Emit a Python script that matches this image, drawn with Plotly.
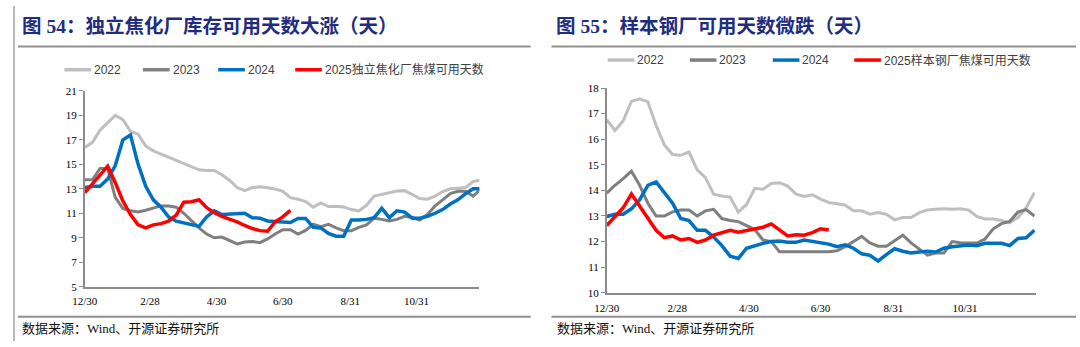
import plotly.graph_objects as go

# ---------------- data ----------------
tick_days = [0, 60, 121, 182, 244, 305]
tick_labels = ["12/30", "2/28", "4/30", "6/30", "8/31", "10/31"]
week_days = [7 * i for i in range(53)]  # weekly observations from 12/30

series_names_left = ["2022", "2023", "2024", "2025独立焦化厂焦煤可用天数"]
series_names_right = ["2022", "2023", "2024", "2025样本钢厂焦煤可用天数"]

left_2022 = [16.37, 16.8, 17.8, 18.4, 19.0, 18.65, 17.7, 17.47, 16.5, 16.1, 15.85, 15.55, 15.3, 15.1,
             14.85, 14.55, 14.5, 14.5, 14.15, 13.7, 13.1, 12.85, 13.1, 13.16, 13.08, 12.98, 12.8,
             12.28, 12.15, 11.95, 11.5, 11.85, 11.55, 11.58, 11.52, 11.3, 11.2, 11.65, 12.4, 12.55,
             12.67, 12.82, 12.85, 12.5, 12.2, 12.15, 12.4, 12.78, 13.0, 13.05, 13.1, 13.6, 13.7]
left_2023 = [13.74, 13.74, 14.66, 14.66, 12.3, 11.4, 11.2, 11.1, 11.25, 11.4, 11.6, 11.6, 11.5, 11.0,
             10.4, 9.8, 9.3, 9.0, 9.05, 8.75, 8.5, 8.65, 8.7, 8.6, 8.9, 9.3, 9.66, 9.66, 9.3, 9.6,
             10.1, 9.9, 10.1, 9.8, 9.58, 9.58, 9.85, 10.05, 10.6, 10.5, 10.37, 10.5, 10.75, 10.65,
             10.45, 10.9, 11.6, 12.1, 12.6, 12.8, 12.8, 12.4, 12.95]
left_2024 = [13.1, 13.2, 13.2, 13.8, 14.9, 17.0, 17.4, 15.0, 13.2, 12.1, 11.5, 10.7, 10.35, 10.2,
             10.1, 9.93, 10.7, 11.2, 10.9, 10.95, 11.0, 11.0, 10.64, 10.6, 10.37, 10.33, 10.3,
             10.25, 10.58, 10.58, 9.85, 9.8, 9.35, 9.13, 9.13, 10.45, 10.45, 10.5, 10.64, 11.4,
             10.64, 11.2, 11.1, 10.6, 10.6, 10.75, 11.0, 11.3, 11.75, 12.1, 12.6, 13.0, 13.0]
left_2025 = [12.69, 13.4, 14.1, 14.85, 13.5, 12.0, 10.9, 10.05, 9.8, 10.05, 10.15, 10.35, 10.85,
             11.9, 11.95, 12.1, 11.45, 11.05, 10.75, 10.55, 10.3, 10.0, 9.75, 9.58, 9.53, 10.3,
             10.7, 11.24]

right_2022 = [16.76, 16.34, 16.72, 17.48, 17.58, 17.46, 16.54, 15.78, 15.4, 15.37, 15.5, 14.8,
              14.5, 13.85, 13.78, 13.74, 13.15, 13.45, 14.08, 14.05, 14.27, 14.3, 14.17, 13.86,
              13.76, 13.83, 13.66, 13.53, 13.48, 13.42, 13.2, 13.2, 13.07, 13.13, 13.07, 12.85,
              12.94, 12.94, 13.13, 13.23, 13.26, 13.28, 13.26, 13.28, 13.23, 12.98, 12.88, 12.88,
              12.82, 12.73, 12.94, 13.32, 13.91]
right_2023 = [13.89, 14.2, 14.46, 14.75, 14.2, 13.5, 13.0, 13.0, 13.16, 13.23, 13.23, 13.0, 13.2,
              13.26, 12.9, 12.82, 12.78, 12.63, 12.47, 12.06, 12.0, 11.6, 11.6, 11.6, 11.62, 11.62,
              11.6, 11.6, 11.64, 11.8, 12.0, 12.2, 11.95, 11.82, 11.82, 12.05, 12.25, 11.95, 11.7,
              11.47, 11.55, 11.55, 12.0, 11.95, 11.94, 11.94, 12.1, 12.5, 12.7, 12.79, 13.15,
              13.25, 13.0]
right_2024 = [12.98, 13.07, 13.07, 13.28, 13.64, 14.2, 14.33, 13.89, 13.5, 12.9, 12.82, 12.44,
              12.44, 12.18, 11.84, 11.43, 11.34, 11.74, 11.84, 11.93, 12.0, 12.02, 11.97, 11.97,
              12.06, 12.0, 11.97, 11.9, 11.8, 11.87, 11.74, 11.52, 11.46, 11.24, 11.49, 11.72,
              11.62, 11.55, 11.59, 11.62, 11.59, 11.74, 11.8, 11.84, 11.87, 11.84, 11.93, 11.93,
              11.93, 11.84, 12.12, 12.15, 12.44]
right_2025 = [12.63, 13.0, 13.32, 13.86, 13.38, 12.88, 12.44, 12.15, 12.22, 12.06, 12.12, 11.97,
              12.06, 12.25, 12.35, 12.44, 12.37, 12.44, 12.5, 12.56, 12.69, 12.47, 12.22, 12.27,
              12.25, 12.35, 12.5, 12.45]

titles = ["图 54：独立焦化厂库存可用天数大涨（天）", "图 55：样本钢厂可用天数微跌（天）"]
source_text = "数据来源：Wind、开源证券研究所"

# ---------------- styling ----------------
W, H = 1080, 347
colors = ["#BFBFBF", "#7F7F7F", "#0070C0", "#FF0000"]
widths = [3, 3, 3.5, 3.5]
AX = "#8C8C8C"
SERIF = "Liberation Serif, Times New Roman, serif"
CJK_SERIF = "Liberation Serif, Noto Sans CJK SC, serif"


def px(x):
    return x / W


def py(y):
    return 1 - y / H


fig = go.Figure()

left_series = [left_2022, left_2023, left_2024, left_2025]
right_series = [right_2022, right_2023, right_2024, right_2025]

for vals, name, c, w in zip(left_series, series_names_left, colors, widths):
    fig.add_trace(go.Scatter(x=week_days[:len(vals)], y=vals, name=name, mode="lines",
                             line=dict(color=c, width=w), xaxis="x", yaxis="y",
                             showlegend=False))
for vals, name, c, w in zip(right_series, series_names_right, colors, widths):
    fig.add_trace(go.Scatter(x=week_days[:len(vals)], y=vals, name=name, mode="lines",
                             line=dict(color=c, width=w), xaxis="x2", yaxis="y2",
                             showlegend=False))

common_x = dict(showline=True, linecolor=AX, linewidth=1.5, showgrid=False, zeroline=False,
                tickmode="array", tickvals=tick_days, ticktext=tick_labels, ticks="",
                tickfont=dict(family=SERIF, size=11, color="#000"))
common_y = dict(showline=True, linecolor=AX, linewidth=1.5, showgrid=False, zeroline=False,
                ticks="outside", ticklen=4, tickcolor=AX, tickwidth=1.2,
                tickfont=dict(family=SERIF, size=11, color="#000"))

fig.update_layout(
    width=W, height=H, margin=dict(l=0, r=0, t=0, b=0),
    paper_bgcolor="white", plot_bgcolor="white", showlegend=False,
    xaxis=dict(domain=[px(72.7), px(472)], range=[0, 362.7], anchor="y",
               ticklabelstandoff=3, **common_x),
    yaxis=dict(domain=[py(290.7), py(88)], range=[5, 21], tick0=5, dtick=2, anchor="x", **common_y),
    xaxis2=dict(domain=[px(601), px(1035)], range=[0, 365], anchor="y2",
                ticklabelstandoff=4, **common_x),
    yaxis2=dict(domain=[py(297), py(85)], range=[10, 18], tick0=10, dtick=1, anchor="x2", **common_y),
)

shapes = []
annotations = []

# left border of the page
shapes.append(dict(type="line", xref="paper", yref="paper", x0=px(1), x1=px(1), y0=0, y1=1,
                   line=dict(color="#A0A0A0", width=1.5)))

panels = [
    dict(title_x=7, line_x0=5, line_x1=524, src_x=7, legend_y=66,
         legend_lines=[52, 131.5, 207.7, 285.6], names=series_names_left),
    dict(title_x=548, line_x0=545, line_x1=1076, src_x=549, legend_y=56,
         legend_lines=[602, 685, 769, 851.5], names=series_names_right),
]

for p, title in zip(panels, titles):
    # title
    annotations.append(dict(text="<b>" + title + "</b>", xref="paper", yref="paper",
                            x=px(p["title_x"]), y=py(21), xanchor="left", yanchor="middle",
                            showarrow=False,
                            font=dict(family="Liberation Serif, Noto Sans CJK SC", size=19.5,
                                      color="#1F2C80")))
    # title underline and source line
    for yy in (42, 322):
        shapes.append(dict(type="line", xref="paper", yref="paper",
                           x0=px(p["line_x0"]), x1=px(p["line_x1"]), y0=py(yy), y1=py(yy),
                           line=dict(color="#8F8F8F", width=2)))
    # source
    annotations.append(dict(text=source_text, xref="paper", yref="paper",
                            x=px(p["src_x"]), y=py(334), xanchor="left", yanchor="middle",
                            showarrow=False,
                            font=dict(family=CJK_SERIF, size=13, color="#111")))
    # legend
    for lx, name, c in zip(p["legend_lines"], p["names"], colors):
        shapes.append(dict(type="line", xref="paper", yref="paper",
                           x0=px(lx), x1=px(lx + 27), y0=py(p["legend_y"]), y1=py(p["legend_y"]),
                           line=dict(color=c, width=3.5)))
        annotations.append(dict(text=name, xref="paper", yref="paper",
                                x=px(lx + 28), y=py(p["legend_y"]), xanchor="left",
                                yanchor="middle", showarrow=False,
                                font=dict(family="Liberation Sans, Arial, Noto Sans CJK SC",
                                          size=12, color="#404040")))

fig.update_layout(shapes=shapes, annotations=annotations)
fig.write_html("out.html")
